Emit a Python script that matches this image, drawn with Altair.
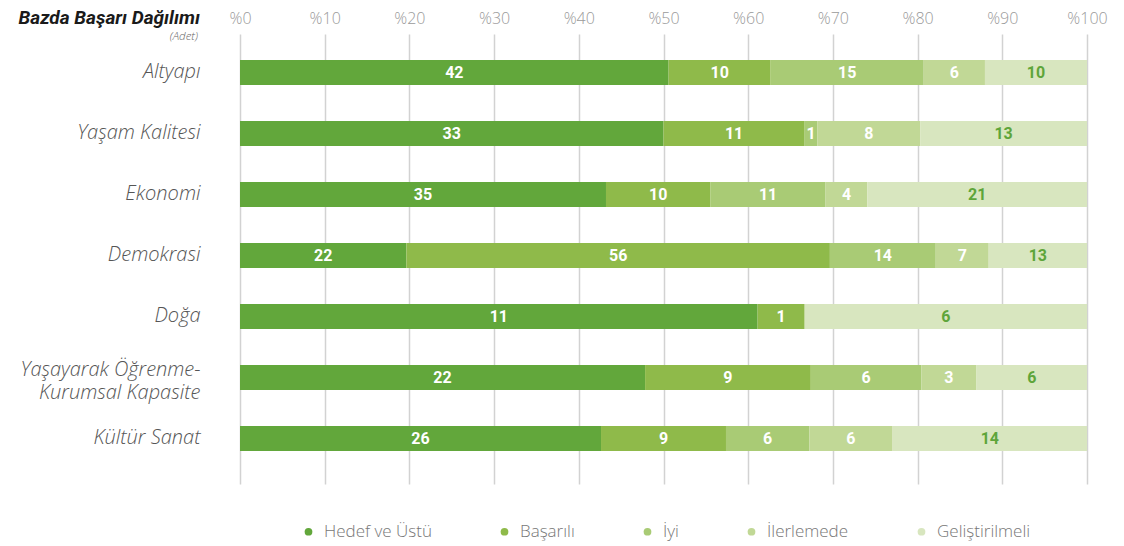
import altair as alt
import pandas as pd

categories = ["Altyapı", "Yaşam Kalitesi", "Ekonomi", "Demokrasi", "Doğa",
              "Yaşayarak Öğrenme-Kurumsal Kapasite", "Kültür Sanat"]
levels = ["Hedef ve Üstü", "Başarılı", "İyi", "İlerlemede", "Geliştirilmeli"]
hedef = [42, 33, 35, 22, 11, 22, 26]
basarili = [10, 11, 10, 56, 1, 9, 9]
iyi = [15, 1, 11, 14, 0, 6, 6]
ilerleme = [6, 8, 4, 7, 0, 3, 6]
gelistir = [10, 13, 21, 13, 6, 6, 14]
colors = ["#62a73b", "#8fba4a", "#a9cb75", "#c1d896", "#d8e6bf"]
tick_values = [0, 0.1, 0.2, 0.3, 0.4, 0.5, 0.6, 0.7, 0.8, 0.9, 1.0]

series = [hedef, basarili, iyi, ilerleme, gelistir]
rows = []
for li, (lev, vals) in enumerate(zip(levels, series)):
    for ci, cat in enumerate(categories):
        if vals[ci] > 0:
            rows.append({"cat": cat, "level": lev, "ord": li, "v": vals[ci]})
df = pd.DataFrame(rows)

FONT = "Open Sans"
BFONT = "Roboto"

x_scale = alt.Scale(domain=[0, 1], nice=False)
y_enc = alt.Y(
    "cat:N", sort=categories,
    scale=alt.Scale(paddingInner=0.59, paddingOuter=0.484, align=0.44),
    axis=alt.Axis(
        domain=False, ticks=False, labelPadding=40, labelFontSize=20,
        labelFontStyle="italic", labelFont=FONT, labelFontWeight=300,
        labelColor="#555555", labelLimit=400, labelLineHeight=23, title=None,
        labelOffset={"condition": {"test": "indexof(datum.value, '-') > 0", "value": -7}, "value": 0},
        labelExpr="indexof(datum.label, '-') > 0 ? [slice(datum.label, 0, indexof(datum.label, '-') + 1), slice(datum.label, indexof(datum.label, '-') + 1)] : datum.label",
    ),
)

base = alt.Chart(df)

bars = base.mark_bar(size=25).encode(
    x=alt.X(
        "v:Q", stack="normalize", scale=x_scale,
        axis=alt.Axis(
            orient="top", values=tick_values,
            labelExpr="'%' + round(datum.value * 100)",
            domain=False, ticks=False, grid=True, gridColor="#d2d2d2",
            gridWidth=1.5, labelFontSize=16, labelColor="#9a9a9a",
            labelFont=FONT, labelFontWeight=300, labelPadding=8, title=None,
            labelFlush=False, labelOverlap=False,
        ),
    ),
    y=y_enc,
    color=alt.Color(
        "level:N", sort=levels,
        scale=alt.Scale(domain=levels, range=colors),
        legend=alt.Legend(
            orient="none", legendX=60, legendY=489, direction="horizontal",
            symbolType="circle", symbolSize=60, symbolStrokeWidth=0,
            labelFontSize=17, labelColor="#777777", labelFont=FONT,
            labelFontWeight=300, columnPadding=64, labelOffset=7, title=None,
        ),
    ),
    order=alt.Order("ord:Q", sort="ascending"),
)

labels = base.transform_window(
    cum="sum(v)", groupby=["cat"], sort=[alt.SortField("ord", order="ascending")],
    frame=[None, 0],
).transform_joinaggregate(
    total="sum(v)", groupby=["cat"]
).transform_calculate(
    mid="(datum.cum - datum.v / 2) / datum.total",
    tcol="datum.ord == 4 ? 'g' : 'w'",
).mark_text(fontSize=16, fontWeight="bold", font=BFONT, baseline="middle", dy=1).encode(
    x=alt.X("mid:Q", scale=x_scale),
    y=alt.Y("cat:N", sort=categories),
    text="v:Q",
    color=alt.Color("tcol:N", scale=alt.Scale(domain=["w", "g"], range=["#ffffff", "#5ea53a"]), legend=None),
)

title_df = pd.DataFrame({"t": ["Bazda Başarı Dağılımı"]})
sub_df = pd.DataFrame({"t": ["(Adet)"]})
title = alt.Chart(title_df).mark_text(
    fontSize=19, fontWeight="bold", fontStyle="italic", font=BFONT,
    align="right", baseline="alphabetic", color="#1a1a1a"
).encode(text="t:N", x=alt.value(-40), y=alt.value(-10))
sub = alt.Chart(sub_df).mark_text(
    fontSize=11.5, fontStyle="italic", font=FONT, fontWeight=300,
    align="right", baseline="middle", color="#666666"
).encode(text="t:N", x=alt.value(-42), y=alt.value(3))

chart = alt.layer(bars, labels, title, sub).resolve_scale(color="independent").properties(
    width=847, height=450,
    autosize=alt.AutoSizeParams(type="none"),
    padding={"left": 232, "top": 26, "right": 28, "bottom": 60},
).configure_view(stroke=None)

chart.save("out.html", embed_options={"renderer": "svg", "actions": False})
